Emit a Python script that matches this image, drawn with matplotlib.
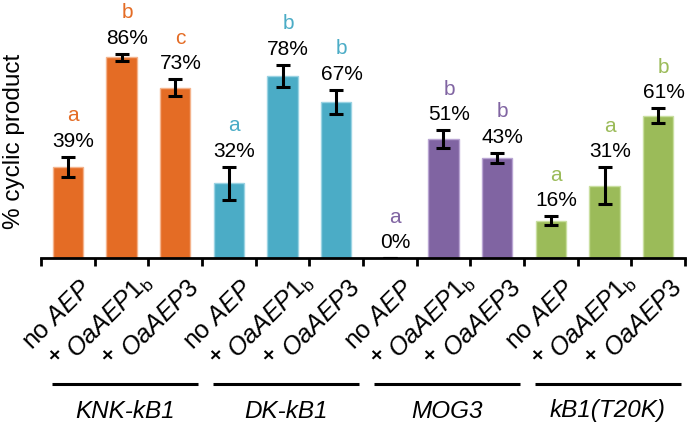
import matplotlib
matplotlib.use("Agg")
import matplotlib.pyplot as plt
import matplotlib.transforms as mtransforms

plt.rcParams['font.family'] = ['Liberation Sans', 'DejaVu Sans']
plt.rcParams['mathtext.fontset'] = 'custom'
plt.rcParams['mathtext.rm'] = 'Liberation Sans'
plt.rcParams['mathtext.it'] = 'Liberation Sans:italic'

# ---- data ----
groups = ["KNK-kB1", "DK-kB1", "MOG3", "kB1(T20K)"]
conditions = ["no AEP", "× OaAEP1b", "× OaAEP3"]
values = [39, 86, 73, 32, 78, 67, 0, 51, 43, 16, 31, 61]
errors = [4.4, 1.6, 3.7, 7.1, 4.9, 5.1, 0, 3.9, 2.1, 1.8, 7.9, 3.1]
letters = ["a", "b", "c", "a", "b", "b", "a", "b", "b", "a", "a", "b"]
group_colors = ["#E46C25", "#4BACC6", "#8064A2", "#9BBB59"]
edge_colors = ["#F4B38C", "#9AD3E3", "#B9A5D3", "#C9DFA0"]

tick_texts = [r"no $\mathit{AEP}$", r"$\mathit{OaAEP1}_{\mathrm{b}}$", r"$\mathit{OaAEP3}$"]
tick_prefix = ["", "×", "×"]
tick_shift = [(8, -13), (13, -8), (8, -13)]

fig = plt.figure(figsize=(6.88, 4.26), dpi=100)
ax = fig.add_axes([41/688, 1-258/426, (685-41)/688, 258/426])

n = len(values)
xs = list(range(n))
cols = [group_colors[i // 3] for i in xs]
ecols = [edge_colors[i // 3] for i in xs]

ax.bar(xs, values, width=0.56, color=cols, edgecolor=ecols, linewidth=1.0, zorder=2)
ax.errorbar(xs, values, yerr=errors, fmt='none', ecolor='black', elinewidth=2.2,
            capsize=5.2, capthick=2.2, zorder=3)

for i in xs:
    top = values[i] + errors[i]
    ax.annotate(f"{values[i]}%", xy=(i, top), xytext=(4, 7.2), textcoords='offset points',
                ha='center', va='baseline', fontsize=15, color='black')
    ax.annotate(letters[i], xy=(i, top), xytext=(4, 25.5), textcoords='offset points',
                ha='center', va='baseline', fontsize=15, color=cols[i])

ax.set_xlim(-0.5, n - 0.5)
ax.set_ylim(0, 110.6)
for s in ['top', 'right', 'left']:
    ax.spines[s].set_visible(False)
ax.spines['bottom'].set_linewidth(2.0)
ax.set_yticks([])
ax.set_xticks([x - 0.5 for x in range(n + 1)])
ax.set_xticklabels([])
ax.tick_params(axis='x', direction='out', length=5.5, width=2.0)

# rotated condition labels
for i in xs:
    k = i % 3
    ax.annotate(tick_texts[k], xy=(i, 0), xycoords=('data', 'axes fraction'),
                xytext=tick_shift[k], textcoords='offset points', ha='right', va='top',
                rotation=45, rotation_mode='anchor', fontsize=18, annotation_clip=False)
    if tick_prefix[k]:
        ax.annotate(tick_prefix[k], xy=(i, 0), xycoords=('data', 'axes fraction'),
                    xytext=(-49, -71), textcoords='offset points', ha='center', va='center',
                    fontsize=14, fontweight='bold', annotation_clip=False)

# group lines and labels
trans = mtransforms.blended_transform_factory(ax.transData, fig.transFigure)
for g, name in enumerate(groups):
    x0 = g * 3 - 0.3
    x1 = g * 3 + 2.42
    ax.plot([x0, x1], [1 - 384/426, 1 - 384/426], color='black', lw=2.2,
            transform=trans, clip_on=False, solid_capstyle='butt')
    ax.text((x0 + x1) / 2, 1 - 411/426, name, transform=trans, ha='center', va='center',
            fontsize=17.5, style='italic')

fig.text(14/688, 1 - 141/426, "% cyclic product", rotation=90, ha='center', va='center',
         fontsize=17.5)

fig.savefig("out.png", dpi=100)
